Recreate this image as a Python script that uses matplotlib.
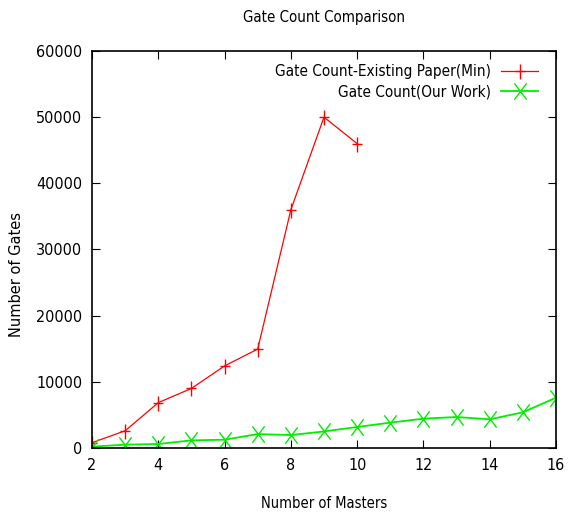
import matplotlib
matplotlib.use('Agg')
import matplotlib.pyplot as plt
from matplotlib.path import Path

# data
masters_existing = [2, 3, 4, 5, 6, 7, 8, 9, 10]
gates_existing = [800, 2600, 6850, 9000, 12400, 14950, 36000, 50000, 46000]

masters_ours = [2, 3, 4, 5, 6, 7, 8, 9, 10, 11, 12, 13, 14, 15, 16]
gates_ours = [200, 500, 600, 1150, 1250, 2100, 1950, 2500, 3170, 3830, 4430, 4680, 4330, 5390, 7600]

x_ticks = [2, 4, 6, 8, 10, 12, 14, 16]
y_ticks = [0, 10000, 20000, 30000, 40000, 50000, 60000]

plt.rcParams['font.family'] = 'DejaVu Sans'
plt.rcParams['font.stretch'] = 'condensed'

# gnuplot point types look a bit taller than wide in the source image
plus_tall = Path([(-0.66, 0), (0.66, 0), (0, -1), (0, 1)],
                 [Path.MOVETO, Path.LINETO, Path.MOVETO, Path.LINETO])
cross_tall = Path([(-0.75, -1), (0.75, 1), (-0.75, 1), (0.75, -1)],
                  [Path.MOVETO, Path.LINETO, Path.MOVETO, Path.LINETO])

fig = plt.figure(figsize=(5.74, 5.17), dpi=100)
ax = fig.add_axes([0.1603, 0.1335, 0.8083, 0.7679])

ax.plot(masters_existing, gates_existing, color='red', lw=0.9, marker=plus_tall,
        ms=10.8, mew=1, mfc='none', label='Gate Count-Existing Paper(Min)')
ax.plot(masters_ours, gates_ours, color='#00ee00', lw=1.3, marker=cross_tall,
        ms=11.8, mew=1, mfc='none', label='Gate Count(Our Work)')

ax.set_xlim(2, 16)
ax.set_ylim(0, 60000)
ax.set_xticks(x_ticks)
ax.set_yticks(y_ticks)
ax.tick_params(direction='in', top=True, right=True, length=6, labelsize=11.5, pad=7)
for s in ax.spines.values():
    s.set_linewidth(1.2)

ax.set_title('Gate Count Comparison', fontsize=10.8, pad=21)
ax.set_xlabel('Number of Masters', fontsize=10.5, labelpad=17)
ax.set_ylabel('Number of Gates', fontsize=10.5, fontstretch='normal')
ax.yaxis.set_label_coords(-0.147, 0.438)

ax.legend(loc='upper right', bbox_to_anchor=(1, 1.012), frameon=False, markerfirst=False,
          fontsize=11, handlelength=2.4, handletextpad=0.65, borderaxespad=0.78,
          labelspacing=0.35)

fig.savefig('out.png', dpi=100)
